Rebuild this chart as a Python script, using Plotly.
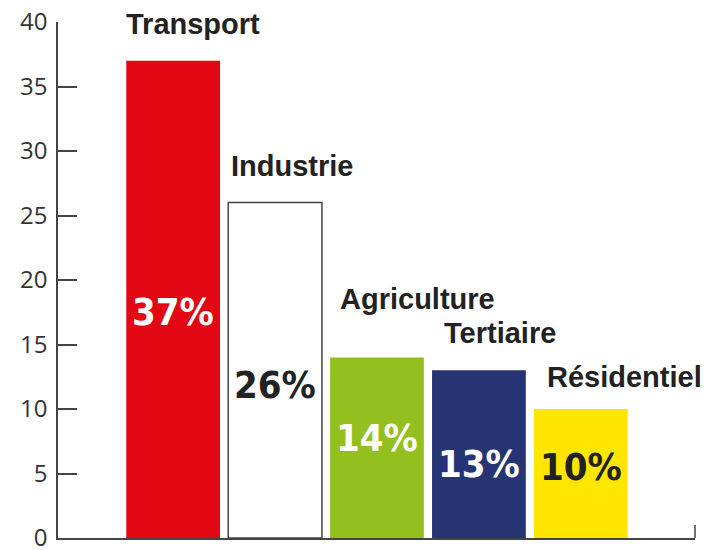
import plotly.graph_objects as go

categories = ["Transport", "Industrie", "Agriculture", "Tertiaire", "Résidentiel"]
values = [37, 26, 14, 13, 10]
pct_labels = ["37%", "26%", "14%", "13%", "10%"]
y_ticks = [0, 5, 10, 15, 20, 25, 30, 35, 40]

# styles
bar_colors = ["#E30613", "#FFFFFF", "#93C01F", "#263473", "#FFE600"]
line_colors = ["#E30613", "#444444", "#93C01F", "#263473", "#FFE600"]
line_widths = [0, 1.5, 0, 0, 0]
pct_colors = ["#FFFFFF", "#222222", "#FFFFFF", "#FFFFFF", "#222222"]
pct_yshift = [-13, -15, 10, -10, 7]
name_xshift = [-2, 1, 8, 10, 11]
name_yshift = [0, 0, 21, 0, -5]

fig = go.Figure()
fig.add_trace(go.Bar(
    x=list(range(len(categories))), y=values,
    marker=dict(color=bar_colors, line=dict(color=line_colors, width=line_widths)),
    width=0.92, hoverinfo="skip", showlegend=False,
))

annotations = []
for i, (c, v, p) in enumerate(zip(categories, values, pct_labels)):
    annotations.append(dict(
        x=i - 0.46, y=v, xref="x", yref="y", text=c, showarrow=False,
        xanchor="left", yanchor="bottom", xshift=name_xshift[i], yshift=name_yshift[i] + 19,
        font=dict(family="Liberation Sans, Arial", size=29, color="#222222", weight="bold"),
    ))
    annotations.append(dict(
        x=i, y=v / 2, xref="x", yref="y", text=p, showarrow=False,
        xanchor="center", yanchor="middle", yshift=pct_yshift[i],
        font=dict(family="DejaVu Sans Condensed, Liberation Sans Narrow, Arial Narrow", size=38,
                  color=pct_colors[i], weight="bold"),
    ))

fig.update_layout(
    width=712, height=550,
    margin=dict(l=50, r=25, t=14, b=20, autoexpand=False),
    paper_bgcolor="white", plot_bgcolor="white",
    annotations=annotations,
    xaxis=dict(range=[-1.13, 5.12], showticklabels=False, ticks="", showgrid=False, automargin=False,
               zeroline=False, showline=True, linecolor="#444444", linewidth=1.5, fixedrange=True),
    yaxis=dict(range=[0, 40], tickvals=y_ticks, ticks="inside", ticklen=19, tickwidth=1.5,
               tickcolor="#444444", showgrid=False, zeroline=False, showline=True, automargin=False,
               linecolor="#444444", linewidth=1.5, ticklabeloverflow="allow",
               tickfont=dict(family="Open Sans", size=24, color="#333333"), ticklabelstandoff=4),
    shapes=[dict(type="line", xref="paper", yref="y", x0=1, x1=1, y0=0, y1=1.0,
                 line=dict(color="#444444", width=1.5))],
)

fig.write_html("out.html")
